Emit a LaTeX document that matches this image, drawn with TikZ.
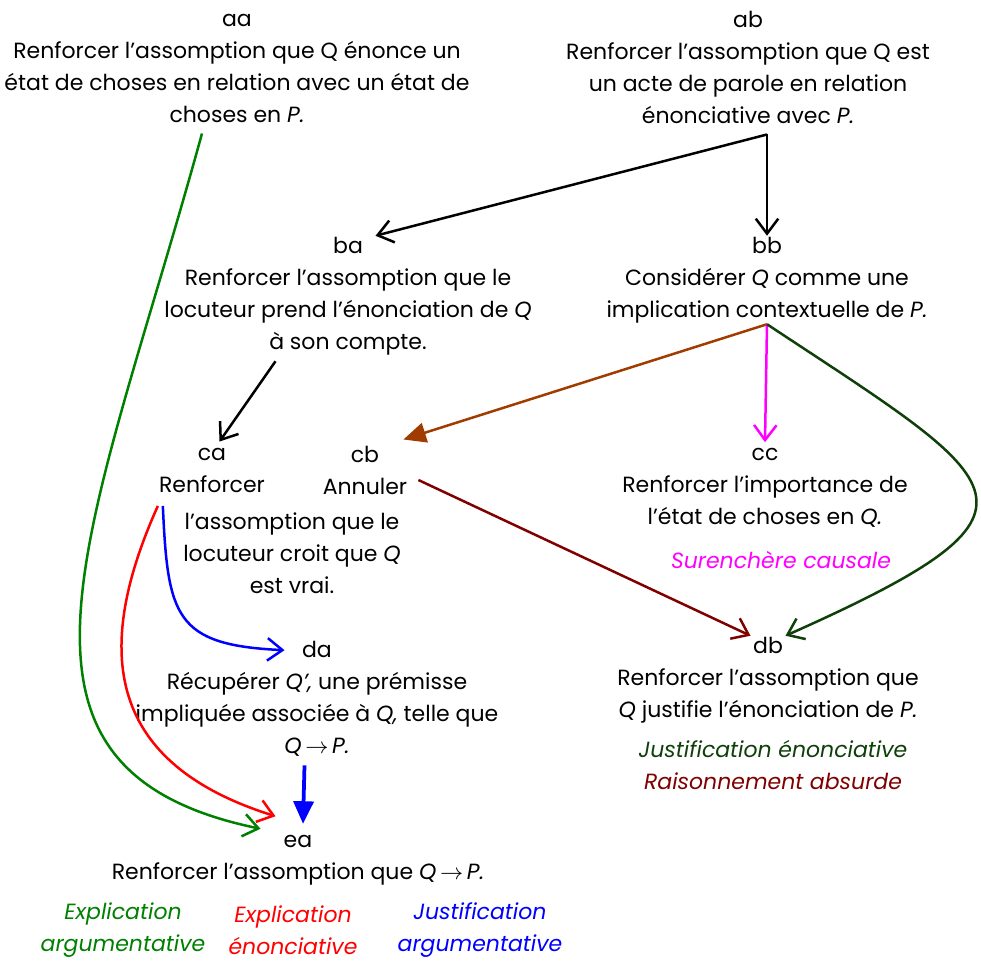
\documentclass[tikz,border=0pt]{standalone}
\usepackage{fontspec}
\setmainfont{Poppins}
\usetikzlibrary{positioning, calc, arrows.meta}

\definecolor{vertarg}{RGB}{0,128,0}
\definecolor{vertfonce}{RGB}{15,64,10}
\definecolor{rougefonce}{RGB}{128,0,0}
\definecolor{brun}{RGB}{160,60,0}
\definecolor{rose}{RGB}{255,0,255}

\begin{document}
\begin{tikzpicture}[
  x=0.4pt, y=-0.4pt, line width=1pt,
  txt/.style  = {align=center, inner sep=0pt, font=\fontsize{8.8}{12.8}\selectfont},
  tag/.style  = {align=center, inner sep=0pt, font=\fontsize{8.8}{12.8}\selectfont\itshape},
  barb/.style = {-{Straight Barb[length=6pt, width=9pt, line width=1pt]}},
  plein/.style= {-{Triangle[length=9pt, width=8pt]}},
]
  \useasboundingbox (0,0) rectangle (981,961);

  \node[txt] (aa) at (237,68) {aa\\Renforcer l’assomption que Q énonce un\\état de choses en relation avec un état de\\choses en \textit{P.}};
  \node[txt] (ab) at (748,67) {ab\\Renforcer l’assomption que Q est\\un acte de parole en relation\\énonciative avec \textit{P.}};
  \node[txt] (ba) at (348,296) {ba\\Renforcer l’assomption que le\\locuteur prend l’énonciation de \textit{Q}\\à son compte.};
  \node[txt] (bb) at (767,280) {bb\\Considérer \textit{Q} comme une\\implication contextuelle de \textit{P.}};
  \node[txt] (ca) at (212,470) {ca\\Renforcer};
  \node[txt] (cb) at (365,470) {cb\\Annuler};
  \node[txt] (cac) at (292,553) {l’assomption que le\\locuteur croit que \textit{Q}\\est vrai.};
  \node[txt] (cc) at (765,488) {cc\\Renforcer l’importance de\\l’état de choses en \textit{Q.}};
  \node[tag, text=rose] (cctag) at (781,560) {Surenchère causale};
  \node[txt] (da) at (317,699) {da\\Récupérer \textit{Q’,} une prémisse\\impliquée associée à \textit{Q,} telle que\\\textit{Q}\,$\rightarrow$\,\textit{P.}};
  \node[txt] (db) at (768,680) {db\\Renforcer l’assomption que\\\textit{Q} justifie l’énonciation de \textit{P.}};
  \node[tag] (dbtag) at (773,765) {\textcolor{vertfonce}{Justification énonciative}\\\textcolor{rougefonce}{Raisonnement absurde}};
  \node[txt] (ea) at (298,860) {ea\\Renforcer l’assomption que \textit{Q}\,$\rightarrow$\,\textit{P.}};
  \node[tag, text=vertarg] (tagva) at (123,930) {Explication\\argumentative};
  \node[tag, text=red]     (tagre) at (293,930) {Explication\\énonciative};
  \node[tag, text=blue]    (tagbj) at (480,930) {Justification\\argumentative};

  % niveau a -> b
  \coordinate (abpied) at ([yshift=-4pt]ab.south -| bb.north);
  \draw[barb] (abpied) -- (bb.north);
  \draw[barb] (abpied) -- ([xshift=11pt]ba.north);
  \draw[barb] ([xshift=-29pt,yshift=-2pt]ba.south) -- ([xshift=3pt,yshift=2pt]ca.north);

  % depuis bb
  \draw[plein, brun]    (bb.south) -- ([xshift=-2pt,yshift=2pt]cb.north east);
  \draw[barb, rose]     (bb.south) -- ([yshift=2pt]cc.north);
  \draw[barb, vertfonce] (bb.south) .. controls +(245,162) and +(285,-127) .. ([xshift=7pt]db.north);
  \draw[barb, rougefonce] ([xshift=4pt,yshift=-4pt]cb.east) -- ([xshift=-7pt]db.north);

  % depuis ca
  \draw[barb, blue] ([xshift=2pt,yshift=-5pt]ca.south west) .. controls +(5,110) and +(-110,-5) .. ([xshift=-13pt,yshift=-4pt]da.north);
  \draw[barb, red]  ([yshift=-5pt]ca.south west) .. controls +(-62,138) and +(-175,-55) .. ([xshift=-9pt,yshift=7pt]ea.north);
  \draw[barb, vertarg] ([xshift=-14pt,yshift=-4pt]aa.south) .. controls +(-110,400) and +(-290,-60) .. ([xshift=-15pt,yshift=2pt]ea.north);
  \draw[plein, blue, line width=1.5pt] ([xshift=-5pt,yshift=-3pt]da.south) -- ([xshift=2pt,yshift=4pt]ea.north);
\end{tikzpicture}
\end{document}
